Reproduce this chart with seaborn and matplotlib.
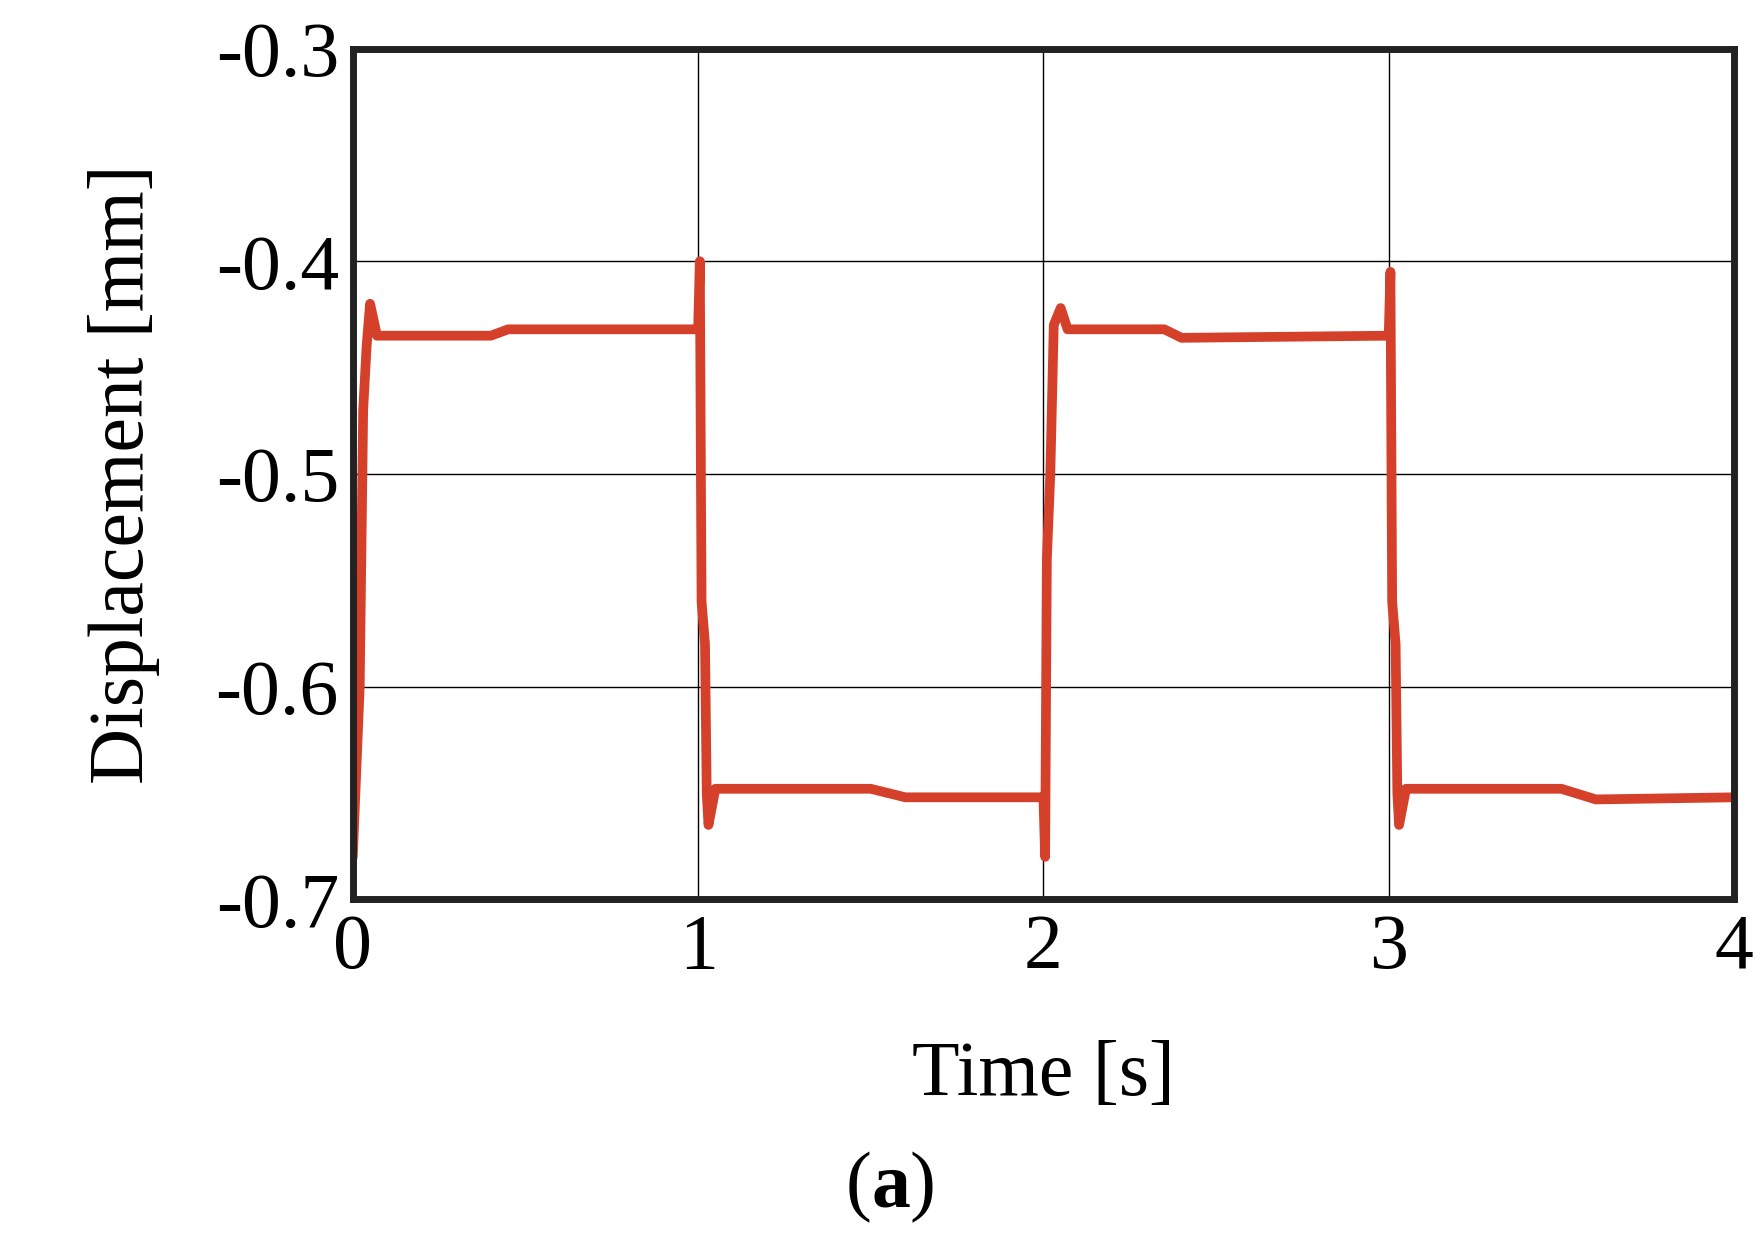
import numpy as np
import matplotlib.pyplot as plt
import seaborn as sns

# breakpoints
time_s = [0.0, 0.02, 0.03, 0.04, 0.05, 0.07, 0.10, 0.40, 0.45, 1.00,
          1.005, 1.01, 1.02, 1.025, 1.03, 1.05, 1.50, 1.60, 2.00,
          2.005, 2.01, 2.02, 2.03, 2.05, 2.07, 2.35, 2.40, 3.00,
          3.005, 3.01, 3.02, 3.025, 3.03, 3.05, 3.50, 3.60, 4.00]
disp_mm = [-0.680, -0.600, -0.470, -0.440, -0.420, -0.435, -0.435, -0.435, -0.432, -0.432,
           -0.400, -0.560, -0.580, -0.650, -0.665, -0.648, -0.648, -0.652, -0.652,
           -0.680, -0.540, -0.500, -0.430, -0.422, -0.432, -0.432, -0.436, -0.435,
           -0.405, -0.560, -0.580, -0.650, -0.665, -0.648, -0.648, -0.653, -0.652]

x_ticks = [0, 1, 2, 3, 4]
y_ticks = [-0.7, -0.6, -0.5, -0.4, -0.3]

sns.set_style("white")
plt.rcParams["font.family"] = ["Liberation Serif", "DejaVu Serif"]
plt.rcParams["text.color"] = "black"
plt.rcParams["axes.labelcolor"] = "black"

fig = plt.figure(figsize=(17.64, 12.44), dpi=100)
ax = fig.add_axes([0.200, 0.277, 0.783, 0.684])
sns.lineplot(x=time_s, y=disp_mm, ax=ax, color="#d5402b", linewidth=7)

ax.set_xlim(0, 4)
ax.set_ylim(-0.7, -0.3)
ax.set_xticks(x_ticks)
ax.set_yticks(y_ticks)
ax.set_xticklabels([str(t) for t in x_ticks])
ax.set_yticklabels([f"{v:.1f}" for v in y_ticks])
ax.grid(True, color="black", linewidth=1)
ax.tick_params(labelsize=56, length=0, pad=10, colors="black")
for s in ax.spines.values():
    s.set_linewidth(5)
    s.set_color("#222222")

ax.set_xlabel("Time [s]", fontsize=56, labelpad=40)
ax.set_ylabel("Displacement [mm]", fontsize=56, labelpad=40)
fig.text(0.494, 0.03, "(", fontsize=56, ha="right")
fig.text(0.494, 0.03, "a", fontsize=56, ha="left", fontweight="bold")
fig.text(0.5155, 0.03, ")", fontsize=56, ha="left")

fig.savefig("out.png", dpi=100)
